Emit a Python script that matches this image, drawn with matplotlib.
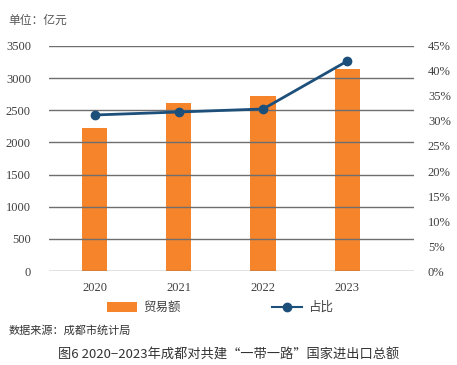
import matplotlib
matplotlib.use("Agg")
import matplotlib.pyplot as plt
from matplotlib.lines import Line2D
from matplotlib.patches import Patch
from matplotlib.ticker import FuncFormatter

plt.rcParams['font.family'] = ['Noto Sans CJK SC', 'DejaVu Sans']

# data
years = ['2020', '2021', '2022', '2023']
trade = [2224, 2613, 2722, 3142]          # 亿元
share = [31.2, 31.8, 32.4, 42.0]          # %

orange = '#F5842A'
navy = '#1C4F7A'
grid_gray = '#6E6E6E'
text_gray = '#404040'
serif = 'Liberation Serif'

fig = plt.figure(figsize=(4.57, 3.65), dpi=100)
ax = fig.add_axes([0.1072, 0.2575, 0.7987, 0.6165])
x = list(range(len(years)))

ax.bar(x, trade, width=0.3, color=orange, zorder=1)
ax.set_ylim(0, 3500)
ax.set_yticks(range(0, 3501, 500))
ax.set_xlim(-0.54, 3.79)
ax.set_xticks(x)
ax.set_xticklabels(years)
ax.yaxis.grid(True, color=grid_gray, linewidth=1.0, zorder=2)
ax.set_axisbelow(False)
for s in ax.spines.values():
    s.set_visible(False)
ax.tick_params(length=0, labelsize=9, colors=text_gray, pad=13)
ax.tick_params(axis='x', pad=8)
for lab in ax.get_xticklabels() + ax.get_yticklabels():
    lab.set_fontfamily(serif)

ax2 = ax.twinx()
ax2.plot(x, share, color=navy, linewidth=2, marker='o', markersize=6, zorder=5)
ax2.set_ylim(0, 45)
ax2.set_yticks(range(0, 46, 5))
ax2.yaxis.set_major_formatter(FuncFormatter(lambda v, p: f'{int(v)}%'))
for s in ax2.spines.values():
    s.set_visible(False)
ax2.tick_params(length=0, labelsize=9, colors=text_gray, pad=10)
for lab in ax2.get_yticklabels():
    lab.set_fontfamily(serif)

# legend
handles = [Patch(facecolor=orange, edgecolor='none'),
           Line2D([0], [0], color=navy, linewidth=1.5, marker='o', markersize=6)]
fig.legend(handles, ['贸易额', '占比'], loc='center', bbox_to_anchor=(0.481, 0.157),
           ncol=2, frameon=False, fontsize=9, handlelength=2.4, handleheight=0.8,
           handletextpad=0.5, columnspacing=7.3, labelcolor=text_gray)

fig.text(0.018, 0.945, '单位：亿元', fontsize=8.5, color='#555555', va='center')
fig.text(0.018, 0.096, '数据来源：成都市统计局', fontsize=8, color='#333333',
         va='center', style='italic')
fig.text(0.5, 0.027, '图6 2020\u22122023年成都对共建“一带一路”国家进出口总额',
         fontsize=9.5, color='#333333', ha='center', va='center')

fig.savefig('out.png', dpi=100)
